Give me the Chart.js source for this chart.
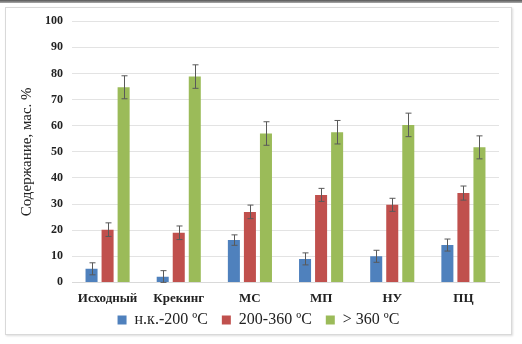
<!DOCTYPE html>
<html>
<head>
<meta charset="utf-8">
<script src="https://cdn.jsdelivr.net/npm/chart.js@4"></script>
<style>
  html, body { margin: 0; padding: 0; background: #fff; }
  body { width: 522px; height: 344px; position: relative; overflow: hidden; }
  #topbar { position: absolute; left: 0; top: 0; width: 522px; height: 3px;
            background: linear-gradient(#555, #aaa); }
  #frame { position: absolute; left: 5px; top: 7px; width: 505px; height: 326px;
           border: 1px solid #d9d9d9; box-shadow: 1px 1px 2px #ddd; overflow: hidden; }
  #wrap { position: absolute; left: 0; top: -3px; width: 505px; height: 333px; }
</style>
</head>
<body>
<div id="topbar"></div>
<div id="frame">
  <div id="wrap"><canvas id="chart"></canvas></div>
</div>
<script>
// categories and series
const categories = ['Исходный', 'Крекинг', 'МС', 'МП', 'НУ', 'ПЦ'];
const seriesNames = ['н.к.-200 ºC', '200-360 ºC', '> 360 ºC'];
const lowBoiling = [5.2, 2.2, 16.2, 9.0, 10.0, 14.3];
const midBoiling = [20.2, 19.0, 27.0, 33.5, 29.7, 34.2];
const highBoiling = [74.7, 78.8, 57.0, 57.5, 60.3, 51.7];
// error bar half-widths
const lowErr = [2.3, 2.3, 2.0, 2.3, 2.3, 2.3];
const midErr = [2.6, 2.6, 2.6, 2.5, 2.5, 2.7];
const highErr = [4.4, 4.5, 4.5, 4.5, 4.5, 4.4];
const yTicks = [0, 10, 20, 30, 40, 50, 60, 70, 80, 90, 100];

const colors = ['#4f81bd', '#c0504d', '#9bbb59'];
const errors = [lowErr, midErr, highErr];

// draws the error whiskers on top of the bars
const errorBars = {
  id: 'errorBars',
  afterDatasetsDraw(chart) {
    const ctx = chart.ctx;
    const y = chart.scales.y;
    ctx.save();
    ctx.strokeStyle = '#595959';
    ctx.lineWidth = 1;
    chart.data.datasets.forEach((ds, i) => {
      const meta = chart.getDatasetMeta(i);
      meta.data.forEach((bar, j) => {
        const v = ds.data[j];
        const e = errors[i][j];
        const x = Math.round(bar.x) + 0.5;
        const top = y.getPixelForValue(v + e);
        const bot = y.getPixelForValue(Math.max(0, v - e));
        ctx.beginPath();
        ctx.moveTo(x, top); ctx.lineTo(x, bot);
        ctx.moveTo(x - 3, top); ctx.lineTo(x + 3, top);
        ctx.moveTo(x - 3, bot); ctx.lineTo(x + 3, bot);
        ctx.stroke();
      });
    });
    ctx.restore();
  }
};

const serif = 'Liberation Serif, Times New Roman, serif';

new Chart(document.getElementById('chart'), {
  type: 'bar',
  data: {
    labels: categories,
    datasets: [
      { label: seriesNames[0], data: lowBoiling, backgroundColor: colors[0] },
      { label: seriesNames[1], data: midBoiling, backgroundColor: colors[1] },
      { label: seriesNames[2], data: highBoiling, backgroundColor: colors[2] },
    ],
  },
  options: {
    responsive: true,
    maintainAspectRatio: false,
    animation: false,
    devicePixelRatio: 1,
    categoryPercentage: 0.676,
    barPercentage: 0.75,
    layout: { padding: { left: 12, right: 12, top: 0, bottom: 0 } },
    plugins: {
      tooltip: { enabled: false },
      legend: {
        position: 'bottom',
        labels: {
          boxWidth: 9, boxHeight: 9, padding: 6,
          color: '#222',
          font: { family: serif, size: 16 },
          // a little extra room between the entries
          generateLabels: (chart) => Chart.defaults.plugins.legend.labels.generateLabels(chart)
            .map((item, i) => ({ ...item, text: i < 2 ? item.text + '  ' : item.text })),
        },
      },
    },
    scales: {
      x: {
        grid: { display: false },
        border: { color: '#d9d9d9' },
        ticks: { color: '#222', font: { family: serif, size: 13, weight: 'bold' }, padding: 0 },
      },
      y: {
        min: 0, max: 100,
        afterBuildTicks: (axis) => { axis.ticks = yTicks.map(v => ({ value: v })); },
        grid: { color: '#e3e3e3', drawTicks: false },
        border: { display: false },
        ticks: { color: '#222', font: { family: serif, size: 12, weight: 'bold' }, padding: 9 },
        title: {
          display: true,
          text: 'Содержание, мас. %',
          color: '#222',
          font: { family: serif, size: 15 },
          padding: { top: 0, bottom: 0 },
        },
      },
    },
  },
  plugins: [errorBars],
});
</script>
</body>
</html>
